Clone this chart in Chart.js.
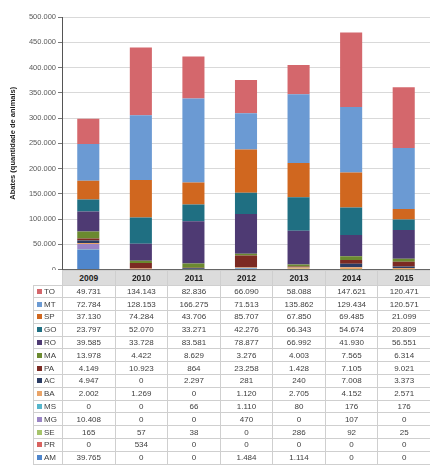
<!DOCTYPE html>
<html>
<head>
<meta charset="utf-8">
<script src="https://cdn.jsdelivr.net/npm/chart.js@4"></script>
<style>
  body { margin: 0; background: #fff; width: 430px; height: 466px; overflow: hidden; position: relative; }
  #wrap { position: absolute; left: 0; top: 0; }
  #tbl { position: absolute; border-collapse: collapse; table-layout: fixed;
         font-family: "Liberation Sans Narrow", "Liberation Sans", sans-serif; font-size: 8px; color: #404040; }
  #tbl td, #tbl th { border: 1px solid #cfcfcf; padding: 0; text-align: center; white-space: nowrap; overflow: hidden; }
  #tbl th { background: #dcdcdc; font-weight: bold; color: #222; font-size: 8.5px; }
  #tbl th.blank { background: #fff; border: none; border-bottom: 1px solid #cfcfcf; }
  #tbl td.lbl { text-align: left; padding-left: 3px; }
  .key { display: inline-block; width: 5px; height: 5px; margin-right: 2px; vertical-align: 0px; }
</style>
</head>
<body>
<div id="wrap"><canvas id="myChart" width="430" height="276"></canvas></div>
<table id="tbl"></table>
<script>
// anos
const years = ['2009', '2010', '2011', '2012', '2013', '2014', '2015']
// estados, na ordem da tabela (de cima para baixo)
const states = ['TO', 'MT', 'SP', 'GO', 'RO', 'MA', 'PA', 'AC', 'BA', 'MS', 'MG', 'SE', 'PR', 'AM']
const TO = [49731, 134143, 82836, 66090, 58088, 147621, 120471]
const MT = [72784, 128153, 166275, 71513, 135862, 129434, 120571]
const SP = [37130, 74284, 43706, 85707, 67850, 69485, 21099]
const GO = [23797, 52070, 33271, 42276, 66343, 54674, 20809]
const RO = [39585, 33728, 83581, 78877, 66992, 41930, 56551]
const MA = [13978, 4422, 8629, 3276, 4003, 7565, 6314]
const PA = [4149, 10923, 864, 23258, 1428, 7105, 9021]
const AC = [4947, 0, 2297, 281, 240, 7008, 3373]
const BA = [2002, 1269, 0, 1120, 2705, 4152, 2571]
const MS = [0, 0, 66, 1110, 80, 176, 176]
const MG = [10408, 0, 0, 470, 0, 107, 0]
const SE = [165, 57, 38, 0, 286, 92, 25]
const PR = [0, 534, 0, 0, 0, 0, 0]
const AM = [39765, 0, 0, 1484, 1114, 0, 0]
const yTicks = [0, 50000, 100000, 150000, 200000, 250000, 300000, 350000, 400000, 450000, 500000]

const values = [TO, MT, SP, GO, RO, MA, PA, AC, BA, MS, MG, SE, PR, AM]
const colors = ['#d4676c', '#6b9ad3', '#d0671f', '#1f6f82', '#4e3a73', '#6b8a2f', '#7c2a22',
                '#2b3c64', '#eaa467', '#55b6cc', '#9a85c5', '#a6c46b', '#d9625f', '#4f86cc']

// formato 1.234
function fmt(n) {
    return String(n).replace(/\B(?=(\d{3})+(?!\d))/g, '.')
}

// AM fica embaixo, TO em cima
const datasets = states.map((s, i) => ({
    label: s,
    data: values[i],
    backgroundColor: colors[i],
    borderWidth: 0
})).reverse()

const ctx = document.getElementById('myChart').getContext('2d')
const myChart = new Chart(ctx, {
    type: 'bar',
    data: { labels: years, datasets: datasets },
    options: {
        responsive: false,
        animation: false,
        layout: { padding: { top: 17, left: 6, right: 0, bottom: 0 } },
        plugins: { legend: { display: false }, tooltip: { enabled: false } },
        datasets: { bar: { categoryPercentage: 1, barPercentage: 0.42 } },
        scales: {
            x: {
                stacked: true,
                ticks: { display: false },
                grid: { display: false },
                border: { color: '#666', width: 1 },
                afterFit: s => { s.height = 2 }
            },
            y: {
                stacked: true,
                min: 0,
                max: 500000,
                afterBuildTicks: s => { s.ticks = yTicks.map(v => ({ value: v })) },
                ticks: {
                    color: '#595959',
                    font: { family: 'Liberation Sans Narrow, Liberation Sans', size: 7.5 },
                    padding: 2,
                    callback: v => fmt(v)
                },
                grid: { color: '#d9d9d9', tickLength: 4, tickColor: '#777' },
                border: { color: '#555', width: 1 },
                title: {
                    display: true,
                    text: 'Abates (quantidade de animais)',
                    color: '#222',
                    font: { family: 'Liberation Sans', size: 7.5, weight: 'bold' },
                    padding: 2
                },
                afterFit: s => { s.width = 56 }
            }
        }
    }
})

// tabela de dados alinhada com as colunas do gráfico
const xs = myChart.scales.x
const colW = (xs.right - xs.left) / years.length
const tbl = document.getElementById('tbl')
const lblW = xs.left - 33
tbl.style.left = '33px'
tbl.style.top = (myChart.chartArea.bottom) + 'px'
tbl.style.width = (lblW + colW * years.length) + 'px'

let html = '<colgroup><col style="width:' + lblW + 'px">'
years.forEach(() => { html += '<col style="width:' + colW + 'px">' })
html += '</colgroup><tr style="height:15px"><th class="blank"></th>'
years.forEach(y => { html += '<th>' + y + '</th>' })
html += '</tr>'
states.forEach((s, i) => {
    html += '<tr style="height:12.8px"><td class="lbl"><span class="key" style="background:' + colors[i] + '"></span>' + s + '</td>'
    values[i].forEach(v => { html += '<td>' + fmt(v) + '</td>' })
    html += '</tr>'
})
tbl.innerHTML = html
</script>
</body>
</html>
